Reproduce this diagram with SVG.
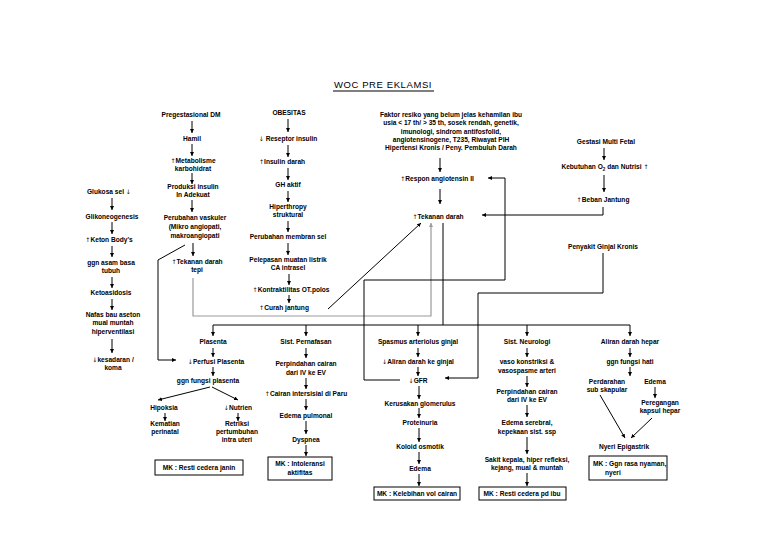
<svg xmlns="http://www.w3.org/2000/svg" width="768" height="543" viewBox="0 0 768 543">
<style>
text{font-family:"Liberation Sans",Arial,sans-serif;font-size:6.6px;font-weight:bold;fill:#000;text-anchor:middle}
.s{font-family:"DejaVu Sans",sans-serif;font-size:6.2px;font-weight:normal}
.title{font-size:9.5px;font-weight:normal;letter-spacing:0.6px}
.c{stroke:#000;stroke-width:1;fill:none}
.ar{stroke:#000;stroke-width:1;fill:none;marker-end:url(#a)}
.gr{stroke:#9a9a9a;stroke-width:1.2;fill:none;marker-end:url(#ag)}
.box{fill:#fff;stroke:#000;stroke-width:1}
</style>
<defs>
<marker id="a" viewBox="0 0 6 6" refX="6" refY="3" markerWidth="4" markerHeight="4" orient="auto" markerUnits="userSpaceOnUse"><path d="M0,0 L6,3 L0,6 z" fill="#000"/></marker>
<marker id="ag" viewBox="0 0 6 6" refX="6" refY="3" markerWidth="4" markerHeight="4" orient="auto" markerUnits="userSpaceOnUse"><path d="M0,0 L6,3 L0,6 z" fill="#9a9a9a"/></marker>
</defs>
<rect width="768" height="543" fill="#fff"/>

<g id="title"><text class="title" x="383" y="88">WOC PRE EKLAMSI</text><line class="c" x1="333" y1="91" x2="434" y2="91"/></g>

<g id="connectors">
<line class="ar" x1="112" y1="198" x2="112" y2="210"/>
<line class="ar" x1="112" y1="222" x2="112" y2="234"/>
<line class="ar" x1="112" y1="246" x2="112" y2="257"/>
<line class="ar" x1="112" y1="277" x2="112" y2="288"/>
<line class="ar" x1="112" y1="299" x2="112" y2="310"/>
<line class="ar" x1="112" y1="339" x2="112" y2="353"/>
<line class="ar" x1="192" y1="121" x2="192" y2="133"/>
<line class="ar" x1="192" y1="144" x2="192" y2="156"/>
<line class="ar" x1="192" y1="173" x2="192" y2="184"/>
<line class="ar" x1="192" y1="200" x2="192" y2="212"/>
<line class="ar" x1="193" y1="243" x2="193" y2="256"/>
<polyline class="ar" points="185,245 158,260 158,360 176,360"/>
<polyline class="gr" points="193,278 193,316 431,316 431,223"/>
<line class="ar" x1="288" y1="119" x2="288" y2="132"/>
<line class="ar" x1="288" y1="145" x2="288" y2="157"/>
<line class="ar" x1="288" y1="168" x2="288" y2="180"/>
<line class="ar" x1="288" y1="191" x2="288" y2="202"/>
<line class="ar" x1="288" y1="221" x2="288" y2="232"/>
<line class="ar" x1="288" y1="243" x2="288" y2="255"/>
<line class="ar" x1="289" y1="274" x2="289" y2="285"/>
<line class="ar" x1="289" y1="295" x2="289" y2="303"/>
<line class="ar" x1="328" y1="309" x2="421" y2="223"/>
<line class="ar" x1="440" y1="158" x2="440" y2="172"/>
<line class="ar" x1="440" y1="189" x2="440" y2="204"/>
<polyline class="c" points="443,223 443,325"/>
<polyline class="ar" points="400,380 364,380 364,280 505,280 505,178 488,178"/>
<line class="ar" x1="604" y1="148" x2="604" y2="160"/>
<line class="ar" x1="604" y1="175" x2="604" y2="192"/>
<polyline class="ar" points="603,207 603,215 482,215"/>
<polyline class="ar" points="603,253 603,293 478,293 478,378 445,378"/>
<line class="c" x1="213" y1="325" x2="630" y2="325"/>
<line class="ar" x1="213" y1="325" x2="213" y2="336"/>
<line class="ar" x1="306" y1="325" x2="306" y2="336"/>
<line class="ar" x1="418" y1="325" x2="418" y2="336"/>
<line class="ar" x1="527" y1="325" x2="527" y2="336"/>
<line class="ar" x1="630" y1="325" x2="630" y2="336"/>
<line class="ar" x1="213" y1="348" x2="213" y2="357"/>
<line class="ar" x1="213" y1="367" x2="213" y2="376"/>
<line class="ar" x1="210" y1="387" x2="158" y2="400"/>
<line class="ar" x1="212" y1="387" x2="238" y2="400"/>
<line class="ar" x1="165" y1="413" x2="165" y2="421"/>
<line class="ar" x1="238" y1="413" x2="238" y2="421"/>
<line class="ar" x1="306" y1="348" x2="306" y2="358"/>
<line class="ar" x1="306" y1="378" x2="306" y2="389"/>
<line class="ar" x1="306" y1="399" x2="306" y2="410"/>
<line class="ar" x1="306" y1="421" x2="306" y2="434"/>
<line class="ar" x1="306" y1="445" x2="306" y2="456"/>
<line class="ar" x1="418" y1="348" x2="418" y2="357"/>
<line class="ar" x1="418" y1="367" x2="418" y2="376"/>
<line class="ar" x1="419" y1="386" x2="419" y2="399"/>
<line class="ar" x1="419" y1="408" x2="419" y2="418"/>
<line class="ar" x1="419" y1="428" x2="419" y2="442"/>
<line class="ar" x1="419" y1="452" x2="419" y2="464"/>
<line class="ar" x1="419" y1="474" x2="419" y2="486"/>
<line class="ar" x1="527" y1="348" x2="527" y2="357"/>
<line class="ar" x1="527" y1="376" x2="527" y2="387"/>
<line class="ar" x1="527" y1="405" x2="527" y2="417"/>
<line class="ar" x1="527" y1="437" x2="527" y2="454"/>
<line class="ar" x1="527" y1="473" x2="527" y2="486"/>
<line class="ar" x1="630" y1="348" x2="630" y2="357"/>
<line class="ar" x1="630" y1="367" x2="630" y2="376"/>
<line class="ar" x1="655" y1="387" x2="655" y2="398"/>
<line class="ar" x1="600" y1="395" x2="625" y2="438"/>
<line class="ar" x1="652" y1="418" x2="631" y2="438"/>
</g>

<g id="n-glukosa"><text x="109" y="194">Glukosa sel <tspan class="s">↓</tspan></text></g>
<g id="n-glikoneogenesis"><text x="112" y="219">Glikoneogenesis</text></g>
<g id="n-keton"><text x="109" y="242"><tspan class="s">↑</tspan>Keton Body's</text></g>
<g id="n-ggn-asam"><text x="111" y="265">ggn asam basa</text><text x="111" y="273">tubuh</text></g>
<g id="n-ketoasidosis"><text x="111" y="295">Ketoasidosis</text></g>
<g id="n-nafas"><text x="113" y="317">Nafas bau aseton</text><text x="113" y="325">mual muntah</text><text x="113" y="334">hiperventilasi</text></g>
<g id="n-kesadaran"><text x="113" y="362"><tspan class="s">↓</tspan>kesadaran /</text><text x="113" y="370">koma</text></g>

<g id="n-pregestasional"><text x="191" y="117">Pregestasional DM</text></g>
<g id="n-hamil"><text x="192" y="141">Hamil</text></g>
<g id="n-metabolisme"><text x="193" y="163"><tspan class="s">↑</tspan>Metabolisme</text><text x="193" y="171">karbohidrat</text></g>
<g id="n-produksi"><text x="193" y="189">Produksi insulin</text><text x="193" y="197">In Adekuat</text></g>
<g id="n-vaskuler"><text x="195" y="220">Perubahan vaskuler</text><text x="195" y="229">(Mikro angiopati,</text><text x="195" y="238">makroangiopati</text></g>
<g id="n-td-tepi"><text x="197" y="264"><tspan class="s">↑</tspan>Tekanan darah</text><text x="197" y="272">tepi</text></g>

<g id="n-obesitas"><text x="289" y="115">OBESITAS</text></g>
<g id="n-reseptor"><text x="288" y="141"><tspan class="s">↓</tspan> Reseptor insulin</text></g>
<g id="n-insulin-darah"><text x="282" y="164"><tspan class="s">↑</tspan>Insulin darah</text></g>
<g id="n-gh"><text x="288" y="187">GH aktif</text></g>
<g id="n-hiperthropy"><text x="288" y="209">Hiperthropy</text><text x="288" y="217">struktural</text></g>
<g id="n-membran"><text x="288" y="239">Perubahan membran sel</text></g>
<g id="n-pelepasan"><text x="288" y="262">Pelepasan muatan listrik</text><text x="288" y="270">CA intrasel</text></g>
<g id="n-kontraktilitas"><text x="291" y="292"><tspan class="s">↑</tspan>Kontraktilitas OT.polos</text></g>
<g id="n-curah"><text x="284" y="310"><tspan class="s">↑</tspan>Curah jantung</text></g>

<g id="n-faktor"><text x="451" y="117">Faktor resiko yang belum jelas kehamilan ibu</text><text x="451" y="125">usia &lt; 17 th/ &gt; 35 th, sosek rendah, genetik,</text><text x="451" y="134">imunologi, sindrom antifosfolid,</text><text x="451" y="142">angiotensinogene, T235, Riwayat PIH</text><text x="451" y="150">Hipertensi Kronis / Peny. Pembuluh Darah</text></g>
<g id="n-respon"><text x="437" y="181"><tspan class="s">↑</tspan>Respon angiotensin II</text></g>
<g id="n-td"><text x="438" y="219"><tspan class="s">↑</tspan>Tekanan darah</text></g>

<g id="n-gestasi"><text x="606" y="144">Gestasi Multi Fetal</text></g>
<g id="n-kebutuhan"><text x="605" y="169">Kebutuhan O<tspan font-size="4.5" dy="1.5">2</tspan><tspan dy="-1.5"> dan Nutrisi </tspan><tspan class="s">↑</tspan></text></g>
<g id="n-beban"><text x="603" y="202"><tspan class="s">↑</tspan>Beban Jantung</text></g>
<g id="n-ginjal-kronis"><text x="603" y="249">Penyakit Ginjal Kronis</text></g>

<g id="n-plasenta"><text x="213" y="344">Plasenta</text></g>
<g id="n-perfusi"><text x="216" y="364"><tspan class="s">↓</tspan>Perfusi Plasenta</text></g>
<g id="n-ggn-plasenta"><text x="208" y="383">ggn fungsi plasenta</text></g>
<g id="n-hipoksia"><text x="164" y="410">Hipoksia</text></g>
<g id="n-kematian"><text x="165" y="426">Kematian</text><text x="165" y="434">perinatal</text></g>
<g id="n-nutrien"><text x="238" y="410"><tspan class="s">↓</tspan>Nutrien</text></g>
<g id="n-retriksi"><text x="237" y="426">Retriksi</text><text x="237" y="434">pertumbuhan</text><text x="237" y="442">intra uteri</text></g>
<g id="n-mk-janin"><rect class="box" x="155" y="460" width="88" height="15"/><text x="199" y="470">MK : Resti cedera janin</text></g>

<g id="n-pernafasan"><text x="306" y="344">Sist. Pernafasan</text></g>
<g id="n-perpindahan1"><text x="306" y="366">Perpindahan cairan</text><text x="306" y="375">dari IV ke EV</text></g>
<g id="n-cairan-paru"><text x="306" y="396"><tspan class="s">↑</tspan>Cairan intersisial di Paru</text></g>
<g id="n-edema-pulmonal"><text x="306" y="418">Edema pulmonal</text></g>
<g id="n-dyspnea"><text x="306" y="442">Dyspnea</text></g>
<g id="n-mk-intoleransi"><rect class="box" x="268" y="457" width="64" height="23" stroke-width="1.3"/><text x="300" y="466">MK : Intoleransi</text><text x="300" y="475">aktifitas</text></g>

<g id="n-spasmus"><text x="418" y="344">Spasmus arteriolus ginjal</text></g>
<g id="n-aliran-ginjal"><text x="418" y="364"><tspan class="s">↓</tspan>Aliran darah ke ginjal</text></g>
<g id="n-gfr"><text x="418" y="383"><tspan class="s">↓</tspan>GFR</text></g>
<g id="n-kerusakan"><text x="420" y="406">Kerusakan glomerulus</text></g>
<g id="n-proteinuria"><text x="420" y="425">Proteinuria</text></g>
<g id="n-koloid"><text x="420" y="449">Koloid osmotik</text></g>
<g id="n-edema-ginjal"><text x="420" y="471">Edema</text></g>
<g id="n-mk-cairan"><rect class="box" x="374" y="487" width="86" height="13"/><text x="417" y="496">MK : Kelebihan vol cairan</text></g>

<g id="n-neurologi"><text x="527" y="344">Sist. Neurologi</text></g>
<g id="n-vaso"><text x="527" y="364">vaso konstriksi &amp;</text><text x="527" y="373">vasospasme arteri</text></g>
<g id="n-perpindahan2"><text x="527" y="394">Perpindahan cairan</text><text x="527" y="402">dari IV ke EV</text></g>
<g id="n-edema-serebral"><text x="527" y="425">Edema serebral,</text><text x="527" y="434">kepekaan sist. ssp</text></g>
<g id="n-sakit-kepala"><text x="527" y="462">Sakit kepala, hiper refleksi,</text><text x="527" y="470">kejang, mual &amp; muntah</text></g>
<g id="n-mk-ibu"><rect class="box" x="479" y="487" width="87" height="13"/><text x="522" y="496">MK : Resti cedera pd ibu</text></g>

<g id="n-hepar"><text x="630" y="344">Aliran darah hepar</text></g>
<g id="n-ggn-hati"><text x="630" y="364">ggn fungsi hati</text></g>
<g id="n-perdarahan"><text x="607" y="384">Perdarahan</text><text x="607" y="392">sub skapular</text></g>
<g id="n-edema-hepar"><text x="655" y="384">Edema</text></g>
<g id="n-peregangan"><text x="660" y="405">Peregangan</text><text x="660" y="413">kapsul hepar</text></g>
<g id="n-nyeri"><text x="624" y="449">Nyeri Epigastrik</text></g>
<g id="n-mk-nyaman"><rect class="box" x="589" y="456" width="78" height="24"/><text x="593" y="466" style="text-anchor:start">MK : Ggn rasa nyaman,</text><text x="605" y="475" style="text-anchor:start">nyeri</text></g>
</svg>
